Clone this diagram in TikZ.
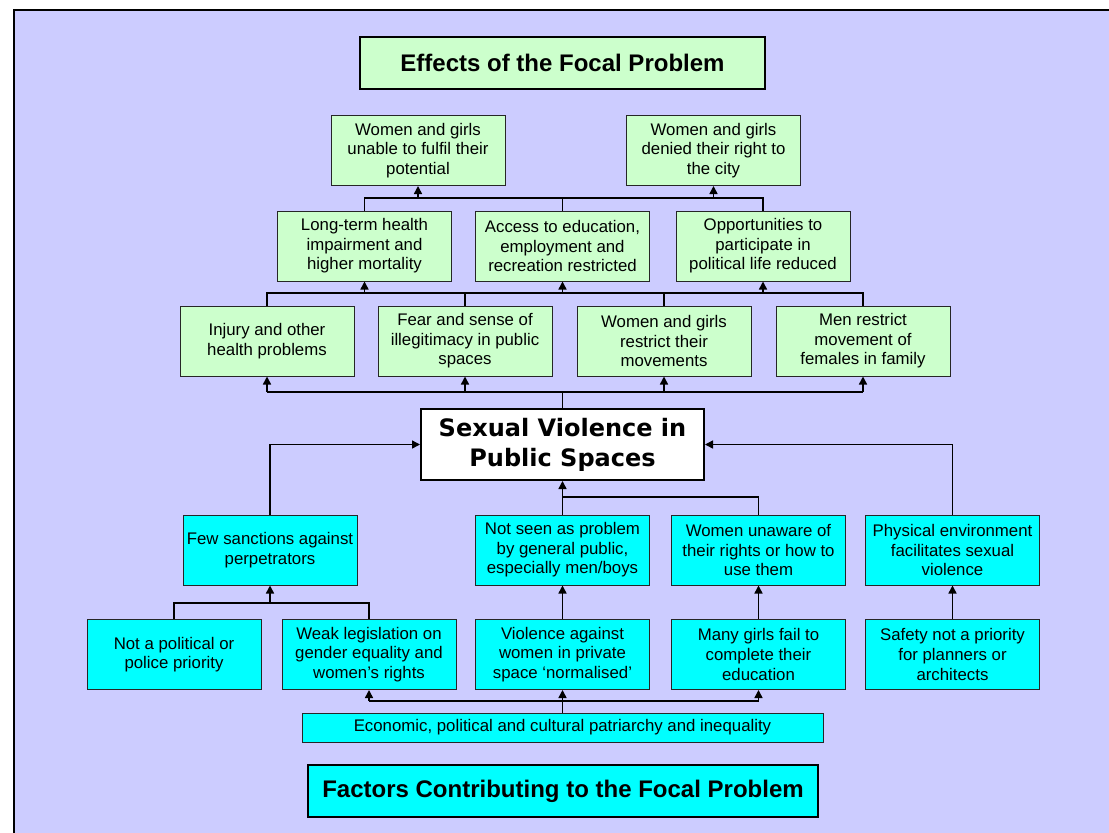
\documentclass[tikz,border=0pt]{standalone}
\usepackage{fontspec}
\setmainfont{Liberation Sans}
\newfontfamily\heavyfont{DejaVu Sans}
\usetikzlibrary{arrows.meta}
\definecolor{lav}{HTML}{CCCCFF}
\definecolor{effgreen}{HTML}{CCFFCC}
\definecolor{faccyan}{HTML}{00FFFF}
\begin{document}
\begin{tikzpicture}[x=1pt,y=-1pt,
  basebox/.style={draw=black!85, line width=1pt, align=center, inner sep=0pt,
    minimum width=174pt, minimum height=70pt, font=\fontsize{16.8}{19.6}\selectfont},
  effbox/.style={basebox, fill=effgreen},
  facbox/.style={basebox, fill=faccyan},
  titlebox/.style={draw=black, line width=2pt, inner sep=0pt, minimum height=52pt,
    font=\bfseries\fontsize{24}{28}\selectfont},
  conn/.style={draw=black, line width=1.5pt},
  arr/.style={conn, -{Triangle[length=8pt,width=8pt]}},
]
\useasboundingbox (0,0) rectangle (1109,833);
\clip (0,0) rectangle (1109,833);
\fill[white] (0,0) rectangle (1109,833);
\draw[line width=2.5pt, fill=lav] (14,10) rectangle (1130,850);

% titles
\node[titlebox, fill=effgreen, minimum width=405pt] (efftitle) at (562.5,63) {Effects of the Focal Problem};
\node[titlebox, fill=faccyan, minimum width=510pt] (factitle) at (563,791) {Factors Contributing to the Focal Problem};

% effects
\node[effbox] (pot) at (418,150.5) {Women and girls\\unable to fulfil their\\potential};
\node[effbox] (city) at (713.5,150.5) {Women and girls\\denied their right to\\the city};
\node[effbox] (health) at (364.5,246) {Long-term health\\impairment and\\higher mortality};
\node[effbox] (access) at (562.5,246) {Access to education,\\employment and\\recreation restricted};
\node[effbox] (polit) at (763,246) {Opportunities to\\participate in\\political life reduced};
\node[effbox] (injury) at (267,341) {Injury and other\\health problems};
\node[effbox] (fear) at (465,341) {Fear and sense of\\illegitimacy in public\\spaces};
\node[effbox] (restrict) at (664,341) {Women and girls\\restrict their\\movements};
\node[effbox] (men) at (863,341) {Men restrict\\movement of\\females in family};

% focal problem
\node[draw=black, line width=2pt, fill=white, minimum width=283pt, minimum height=71pt,
  align=center, inner sep=0pt, font=\heavyfont\bfseries\fontsize{24}{30}\selectfont]
  (svps) at (562.5,444.5) {Sexual Violence in\\Public Spaces};

% factors
\node[facbox] (sanct) at (270,550) {Few sanctions against\\perpetrators};
\node[facbox] (notseen) at (562.5,550) {Not seen as problem\\by general public,\\especially men/boys};
\node[facbox] (unaware) at (758.5,550) {Women unaware of\\their rights or how to\\use them};
\node[facbox] (physical) at (952.5,550) {Physical environment\\facilitates sexual\\violence};
\node[facbox] (notpol) at (174,654.5) {Not a political or\\police priority};
\node[facbox] (weak) at (369,654.5) {Weak legislation on\\gender equality and\\women’s rights};
\node[facbox] (private) at (562.5,654.5) {Violence against\\women in private\\space ‘normalised’};
\node[facbox] (girls) at (758.5,654.5) {Many girls fail to\\complete their\\education};
\node[facbox] (safety) at (952.5,654.5) {Safety not a priority\\for planners or\\architects};
\node[facbox, minimum width=521pt, minimum height=29pt] (patri) at (562.5,727.5) {Economic, political and cultural patriarchy and inequality};

% bus coordinates
\coordinate (busA) at (562.5,198);
\coordinate (busB) at (562.5,293);
\coordinate (busC) at (562.5,392);
\coordinate (busD) at (562.5,497);
\coordinate (busE) at (270,603);
\coordinate (busF) at (562.5,701);

% row 2 -> row 1
\draw[conn] (health.north) |- (busA) -| (polit.north);
\draw[conn] (access.north) -- (busA);
\draw[arr] (pot.south |- busA) -- (pot.south);
\draw[arr] (city.south |- busA) -- (city.south);

% row 3 -> row 2
\draw[conn] (injury.north) |- (busB) -| (men.north);
\draw[conn] (fear.north) -- (fear.north |- busB);
\draw[conn] (restrict.north) -- (restrict.north |- busB);
\draw[arr] (health.south |- busB) -- (health.south);
\draw[arr] (access.south |- busB) -- (access.south);
\draw[arr] (polit.south |- busB) -- (polit.south);

% focal -> row 3
\draw[conn] (svps.north) -- (busC);
\draw[conn] (injury.south |- busC) -- (men.south |- busC);
\draw[arr] (injury.south |- busC) -- (injury.south);
\draw[arr] (fear.south |- busC) -- (fear.south);
\draw[arr] (restrict.south |- busC) -- (restrict.south);
\draw[arr] (men.south |- busC) -- (men.south);

% row 4 -> focal
\draw[arr] (sanct.north) |- (svps.west);
\draw[arr] (physical.north) |- (svps.east);
\draw[arr] (notseen.north) -- (svps.south);
\draw[conn] (unaware.north) |- (busD);

% row 5 -> row 4
\draw[conn] (notpol.north) |- (busE) -| (weak.north);
\draw[arr] (busE) -- (sanct.south);
\draw[arr] (private.north) -- (notseen.south);
\draw[arr] (girls.north) -- (unaware.south);
\draw[arr] (safety.north) -- (physical.south);

% patriarchy
\draw[arr] (patri.north) -- (private.south);
\draw[conn] (weak.south |- busF) -- (girls.south |- busF);
\draw[arr] (weak.south |- busF) -- (weak.south);
\draw[arr] (girls.south |- busF) -- (girls.south);
\end{tikzpicture}
\end{document}
